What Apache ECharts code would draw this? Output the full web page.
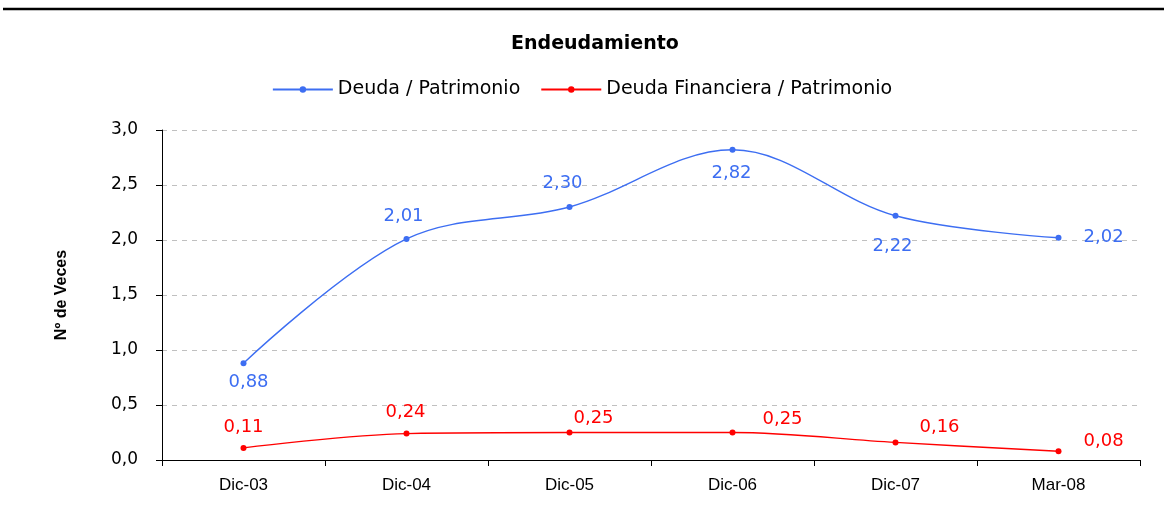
<!DOCTYPE html>
<html><head><meta charset="utf-8">
<script src="https://cdn.jsdelivr.net/npm/echarts@6/dist/echarts.min.js"></script>
<style>html,body{margin:0;padding:0;background:#fff}#c{width:1164px;height:521px}</style>
</head><body><div id="c"></div>
<script>
const categories = ['Dic-03','Dic-04','Dic-05','Dic-06','Dic-07','Mar-08'];
const deudaPatrimonio = [0.88, 2.01, 2.30, 2.82, 2.22, 2.02];
const deudaFinanciera = [0.11, 0.24, 0.25, 0.25, 0.16, 0.08];
const yTicks = [0, 0.5, 1.0, 1.5, 2.0, 2.5, 3.0];

const blueLabelPos = [
  {position:'bottom', offset:[5,2]},
  {position:'top', offset:[-3,-6]},
  {position:'top', offset:[-7,-7]},
  {position:'bottom', offset:[-1,7]},
  {position:'bottom', offset:[-3,14]},
  {position:'right', offset:[17,0]}
];
const redLabelPos = [
  {position:'top', offset:[0,-4]},
  {position:'top', offset:[-1,-4]},
  {position:'top', offset:[24,3]},
  {position:'top', offset:[50,4]},
  {position:'top', offset:[44,2]},
  {position:'right', offset:[17,-10]}
];
const fmt = v => v.toFixed(2).replace('.', ',');
const chart = echarts.init(document.getElementById('c'), null, {renderer:'canvas'});
const font = 'Liberation Sans, Arial, sans-serif';
const wide = 'DejaVu Sans, Verdana, sans-serif';
const blue = '#3d6ef2';
const red = '#ff0000';
chart.setOption({
  animation:false,
  textStyle:{fontFamily:font},
  graphic:[{type:'line', shape:{x1:3,y1:9,x2:1164,y2:9}, style:{stroke:'#000', lineWidth:2.5}}],
  title:{text:'Endeudamiento', left:590, top:30, textAlign:'center',
    textStyle:{fontSize:19, fontWeight:'bold', color:'#000', fontFamily:wide}},
  legend:{top:75, left:'center', itemGap:20, itemWidth:60, itemHeight:8,
    textStyle:{fontSize:19, color:'#000', fontFamily:wide},
    data:['Deuda / Patrimonio','Deuda Financiera / Patrimonio']},
  grid:{left:162, right:24, top:130, bottom:61},
  xAxis:{type:'category', data:categories, boundaryGap:true,
    axisLine:{lineStyle:{color:'#000', width:1}},
    axisTick:{show:true, length:6, inside:false, lineStyle:{color:'#000'}},
    axisLabel:{fontSize:17, color:'#000', margin:17, fontFamily:font}},
  yAxis:{type:'value', min:0, max:3, interval:0.5,
    name:'Nº de Veces', nameLocation:'middle', nameGap:92, nameRotate:90,
    nameTextStyle:{fontSize:16, fontWeight:'bold', color:'#000', fontFamily:font},
    axisLine:{show:true, lineStyle:{color:'#000'}},
    axisTick:{show:true, length:6, lineStyle:{color:'#000'}},
    splitLine:{lineStyle:{type:[5,5], color:'#c0c0c0'}},
    axisLabel:{fontSize:17, color:'#000', margin:24, fontFamily:wide,
      formatter: v => yTicks.includes(v) ? v.toFixed(1).replace('.', ',') : ''}},
  series:[
    {name:'Deuda / Patrimonio', type:'line', smooth:0.35, data:deudaPatrimonio.map((v,i)=>({value:v, label:blueLabelPos[i]})),
      symbol:'circle', symbolSize:6, color:blue, lineStyle:{width:1.4, color:blue},
      label:{show:true, fontSize:18, color:blue, formatter:p=>fmt(p.value), fontFamily:wide}},
    {name:'Deuda Financiera / Patrimonio', type:'line', smooth:0.35, data:deudaFinanciera.map((v,i)=>({value:v, label:redLabelPos[i]})),
      symbol:'circle', symbolSize:6, color:red, lineStyle:{width:1.4, color:red},
      label:{show:true, fontSize:18, color:red, formatter:p=>fmt(p.value), fontFamily:wide}}
  ]
});
</script></body></html>
